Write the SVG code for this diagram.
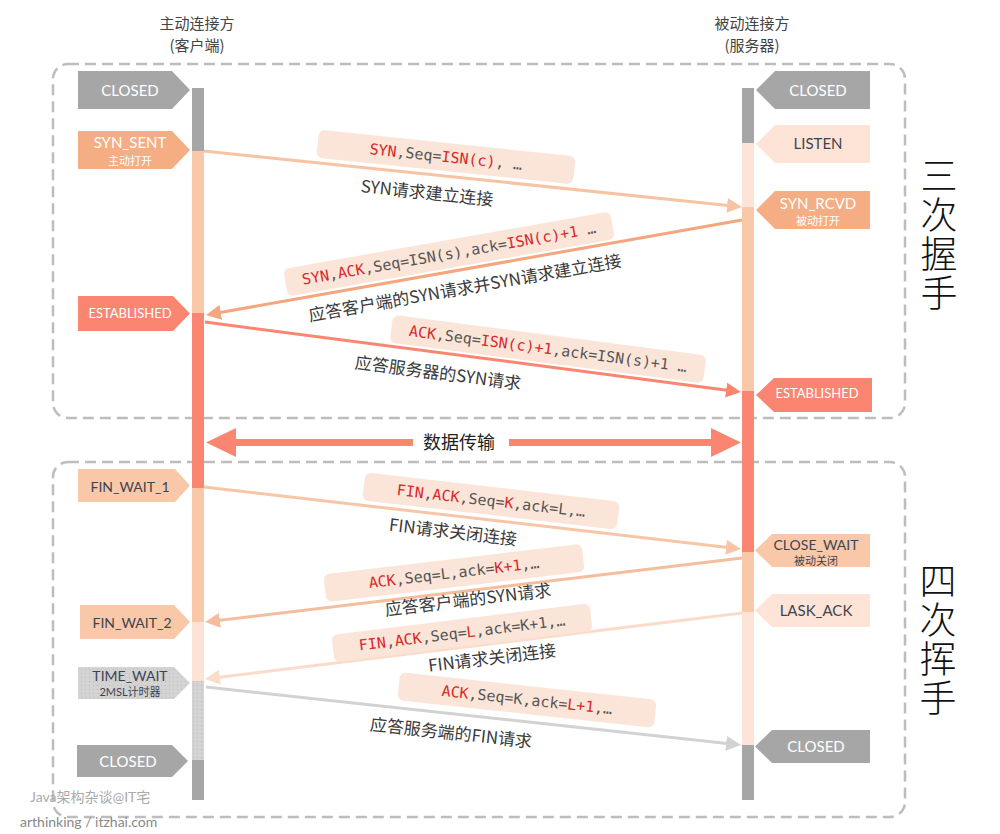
<svg xmlns="http://www.w3.org/2000/svg" width="1000" height="834" viewBox="0 0 1000 834">
<defs>
<style>
.frame{fill:none;stroke:#bdbdbd;stroke-width:2.5;stroke-dasharray:11 6}
.hdr{font-family:"Noto Sans CJK SC","Noto Sans",sans-serif;font-size:15px;fill:#444;text-anchor:middle}
.side{font-family:"Noto Sans CJK SC",sans-serif;font-size:37px;fill:#111;font-weight:200;writing-mode:vertical-rl;letter-spacing:2px}
.st{font-family:Lato,"Open Sans","Noto Sans CJK SC",sans-serif;font-size:15px;text-anchor:middle}
.sub{font-family:Lato,"Noto Sans CJK SC",sans-serif;font-size:11px;text-anchor:middle}
.w{fill:#fff}
.d{fill:#3d4451}
.box{fill:#fbe2d4;fill-opacity:0.9}
.mono{font-family:"DejaVu Sans Mono","Liberation Mono",monospace;font-size:15px;fill:#555;text-anchor:middle}
.r{fill:#d8282b}
.lbl{font-family:"Noto Sans CJK SC","Noto Sans",sans-serif;font-size:17px;fill:#3a3a3a;text-anchor:middle}
.msg{fill:none;stroke-width:3}
.wm{font-family:Lato,"Noto Sans CJK SC",sans-serif;font-size:14px}
</style>
<pattern id="dots" width="4" height="4" patternUnits="userSpaceOnUse">
<rect width="4" height="4" fill="#d3d3d3"/>
<rect x="1" y="1" width="1" height="1" fill="#bcbcbc"/>
</pattern>
<marker id="m1" viewBox="0 0 10 10" markerWidth="15" markerHeight="15" markerUnits="userSpaceOnUse" refX="7" refY="5" orient="auto"><path d="M0,0 L10,5 L0,10 Z" fill="#f7c3a3"/></marker>
<marker id="m2" viewBox="0 0 10 10" markerWidth="15" markerHeight="15" markerUnits="userSpaceOnUse" refX="7" refY="5" orient="auto"><path d="M0,0 L10,5 L0,10 Z" fill="#f4a67e"/></marker>
<marker id="m3" viewBox="0 0 10 10" markerWidth="15" markerHeight="15" markerUnits="userSpaceOnUse" refX="7" refY="5" orient="auto"><path d="M0,0 L10,5 L0,10 Z" fill="#fa8672"/></marker>
<marker id="m4" viewBox="0 0 10 10" markerWidth="15" markerHeight="15" markerUnits="userSpaceOnUse" refX="7" refY="5" orient="auto"><path d="M0,0 L10,5 L0,10 Z" fill="#f8c6a6"/></marker>
<marker id="m5" viewBox="0 0 10 10" markerWidth="15" markerHeight="15" markerUnits="userSpaceOnUse" refX="7" refY="5" orient="auto"><path d="M0,0 L10,5 L0,10 Z" fill="#f6bd9c"/></marker>
<marker id="m6" viewBox="0 0 10 10" markerWidth="15" markerHeight="15" markerUnits="userSpaceOnUse" refX="7" refY="5" orient="auto"><path d="M0,0 L10,5 L0,10 Z" fill="#fbdccb"/></marker>
<marker id="m7" viewBox="0 0 10 10" markerWidth="15" markerHeight="15" markerUnits="userSpaceOnUse" refX="7" refY="5" orient="auto"><path d="M0,0 L10,5 L0,10 Z" fill="#d2d2d2"/></marker>
</defs>
<rect width="1000" height="834" fill="#fff"/>

<!-- frames -->
<g id="frames">
<rect class="frame" x="53" y="64" width="852" height="354" rx="15"/>
<rect class="frame" x="53" y="462" width="852" height="355" rx="15"/>
</g>

<!-- headers -->
<g id="header-client">
<text class="hdr" x="197" y="28.5">主动连接方</text>
<text class="hdr" x="197" y="50.5">(客户端)</text>
</g>
<g id="header-server">
<text class="hdr" x="752" y="28.5">被动连接方</text>
<text class="hdr" x="752" y="50.5">(服务器)</text>
</g>

<!-- side titles -->
<g id="title-handshake">
<text class="side" x="939" y="157">三次握手</text>
</g>
<g id="title-wave">
<text class="side" x="938" y="562">四次挥手</text>
</g>

<!-- client timeline -->
<g id="client-timeline">
<rect x="192" y="88" width="12" height="63" fill="#a6a6a6"/>
<rect x="192" y="151" width="12" height="162" fill="#f8c8a9"/>
<rect x="192" y="313" width="12" height="175" fill="#fa8672"/>
<rect x="192" y="488" width="12" height="134" fill="#f8c8a9"/>
<rect x="192" y="622" width="12" height="59" fill="#fce3d6"/>
<rect x="192" y="681" width="12" height="79" fill="url(#dots)"/>
<rect x="192" y="760" width="12" height="40" fill="#a6a6a6"/>
</g>

<!-- server timeline -->
<g id="server-timeline">
<rect x="742" y="88" width="12" height="55" fill="#a6a6a6"/>
<rect x="742" y="143" width="12" height="64" fill="#fde4d7"/>
<rect x="742" y="207" width="12" height="184" fill="#f8c8a9"/>
<rect x="742" y="391" width="12" height="161" fill="#fa8672"/>
<rect x="742" y="552" width="12" height="60" fill="#f8c8a9"/>
<rect x="742" y="612" width="12" height="133" fill="#fde4d7"/>
<rect x="742" y="745" width="12" height="55" fill="#a6a6a6"/>
</g>

<!-- client states -->
<g id="c-closed1">
<path d="M78,71 H172 L190,90 L172,109 H78 Z" fill="#a6a6a6"/>
<text class="st w" x="130" y="95.5">CLOSED</text>
</g>
<g id="c-syn-sent">
<path d="M78,131 H172 L190,150 L172,169 H78 Z" fill="#f5ad84"/>
<text class="st w" x="130" y="148">SYN_SENT</text>
<text class="sub w" x="130" y="165">主动打开</text>
</g>
<g id="c-established">
<path d="M78,296 H173 L190,313.5 L173,331 H78 Z" fill="#fa8672"/>
<text class="st w" x="130" y="318" style="font-size:13px">ESTABLISHED</text>
</g>
<g id="c-fin-wait-1">
<path d="M78,469 H175 L190,485.5 L175,502 H78 Z" fill="#f8c8a9"/>
<text class="st d" x="130" y="491.5" style="font-size:14px">FIN_WAIT_1</text>
</g>
<g id="c-fin-wait-2">
<path d="M80,605 H174 L190,622 L174,639 H80 Z" fill="#f8c8a9"/>
<text class="st d" x="132" y="627.5" style="font-size:14px">FIN_WAIT_2</text>
</g>
<g id="c-time-wait">
<path d="M78,667 H174 L190,683 L174,699 H78 Z" fill="url(#dots)"/>
<text class="st d" x="130" y="681" style="font-size:14px">TIME_WAIT</text>
<text class="sub d" x="130" y="696">2MSL计时器</text>
</g>
<g id="c-closed2">
<path d="M77,745 H172 L188,761 L172,777 H77 Z" fill="#a6a6a6"/>
<text class="st w" x="128" y="766.5">CLOSED</text>
</g>

<!-- server states -->
<g id="s-closed1">
<path d="M870,71 H775 L756,90 L775,109 H870 Z" fill="#a6a6a6"/>
<text class="st w" x="818" y="95.5">CLOSED</text>
</g>
<g id="s-listen">
<path d="M870,125 H775 L756,144 L775,163 H870 Z" fill="#fde4d7"/>
<text class="st d" x="818" y="149">LISTEN</text>
</g>
<g id="s-syn-rcvd">
<path d="M870,191 H775 L756,210 L775,229 H870 Z" fill="#f5ad84"/>
<text class="st w" x="818" y="209">SYN_RCVD</text>
<text class="sub w" x="818" y="225">被动打开</text>
</g>
<g id="s-established">
<path d="M872,378 H774 L756,395 L774,412 H872 Z" fill="#fa8672"/>
<text class="st w" x="817" y="398" style="font-size:13px">ESTABLISHED</text>
</g>
<g id="s-close-wait">
<path d="M870,534 H772 L755,550.5 L772,567 H870 Z" fill="#f8c8a9"/>
<text class="st d" x="816" y="550" style="font-size:14px">CLOSE_WAIT</text>
<text class="sub d" x="816" y="565">被动关闭</text>
</g>
<g id="s-last-ack">
<path d="M870,594 H772 L755,610.5 L772,627 H870 Z" fill="#fde4d7"/>
<text class="st d" x="816" y="616">LASK_ACK</text>
</g>
<g id="s-closed2">
<path d="M870,730 H772 L755,746.5 L772,763 H870 Z" fill="#a6a6a6"/>
<text class="st w" x="816" y="752">CLOSED</text>
</g>

<!-- connectors -->
<g id="connectors">
<line class="msg" x1="204" y1="151" x2="737.5" y2="206.5" stroke="#f7c3a3" marker-end="url(#m1)"/>
<line class="msg" x1="742" y1="220" x2="210.4" y2="314.2" stroke="#f4a67e" marker-end="url(#m2)"/>
<line class="msg" x1="205" y1="322" x2="736.5" y2="391.4" stroke="#fa8672" marker-end="url(#m3)"/>
<line class="msg" x1="204" y1="487" x2="736.5" y2="548.5" stroke="#f8c6a6" marker-end="url(#m4)"/>
<line class="msg" x1="742" y1="558" x2="209.5" y2="621.5" stroke="#f6bd9c" marker-end="url(#m5)"/>
<line class="msg" x1="742" y1="613" x2="209.5" y2="678.5" stroke="#fbdccb" marker-end="url(#m6)"/>
<line class="msg" x1="206" y1="687" x2="736.5" y2="744.5" stroke="#d2d2d2" marker-end="url(#m7)"/>
<polygon points="206,442.5 236,428 236,439 413,439 413,446 236,446 236,457" fill="#fa8672"/>
<polygon points="741,442.5 711,428 711,439 509,439 509,446 711,446 711,457" fill="#fa8672"/>
</g>

<!-- message labels -->
<g id="msg1">
<g transform="translate(446,157) rotate(5.94)">
<rect class="box" x="-129" y="-14" width="258" height="28" rx="6"/>
<text class="mono" x="0" y="5"><tspan class="r">SYN</tspan>,Seq=<tspan class="r">ISN(c)</tspan>, …</text>
</g>
<text class="lbl" transform="translate(427,193) rotate(5.94)" y="6">SYN请求建立连接</text>
</g>
<g id="msg2">
<g transform="translate(449,254) rotate(-10)">
<rect class="box" x="-166" y="-14" width="332" height="28" rx="6"/>
<text class="mono" x="0" y="5"><tspan class="r">SYN</tspan>,<tspan class="r">ACK</tspan>,Seq=ISN(s),ack=<tspan class="r">ISN(c)+1</tspan> …</text>
</g>
<text class="lbl" transform="translate(465,288) rotate(-10)" y="6">应答客户端的SYN请求并SYN请求建立连接</text>
</g>
<g id="msg3">
<g transform="translate(548,349) rotate(7.44)">
<rect class="box" x="-158" y="-14" width="316" height="28" rx="6"/>
<text class="mono" x="0" y="5"><tspan class="r">ACK</tspan>,Seq=<tspan class="r">ISN(c)+1</tspan>,ack=ISN(s)+1 …</text>
</g>
<text class="lbl" transform="translate(438,373) rotate(7.44)" y="6">应答服务器的SYN请求</text>
</g>
<g id="data-label">
<text class="lbl" x="459" y="449" style="font-size:18px;fill:#222">数据传输</text>
</g>
<g id="msg4">
<g transform="translate(491,501) rotate(6.59)">
<rect class="box" x="-128" y="-14" width="256" height="28" rx="6"/>
<text class="mono" x="0" y="5"><tspan class="r">FIN</tspan>,<tspan class="r">ACK</tspan>,Seq=<tspan class="r">K</tspan>,ack=L,…</text>
</g>
<text class="lbl" transform="translate(453,532) rotate(6.59)" y="6">FIN请求关闭连接</text>
</g>
<g id="msg5">
<g transform="translate(454,573) rotate(-6.8)">
<rect class="box" x="-130" y="-14" width="260" height="28" rx="6"/>
<text class="mono" x="0" y="5"><tspan class="r">ACK</tspan>,Seq=L,ack=<tspan class="r">K+1</tspan>,…</text>
</g>
<text class="lbl" transform="translate(468,600) rotate(-6.8)" y="6">应答客户端的SYN请求</text>
</g>
<g id="msg6">
<g transform="translate(462,633) rotate(-7)">
<rect class="box" x="-130" y="-14" width="260" height="28" rx="6"/>
<text class="mono" x="0" y="5"><tspan class="r">FIN</tspan>,<tspan class="r">ACK</tspan>,Seq=<tspan class="r">L</tspan>,ack=K+1,…</text>
</g>
<text class="lbl" transform="translate(492,658) rotate(-7)" y="6">FIN请求关闭连接</text>
</g>
<g id="msg7">
<g transform="translate(527,700) rotate(6.19)">
<rect class="box" x="-129" y="-14" width="258" height="28" rx="6"/>
<text class="mono" x="0" y="5"><tspan class="r">ACK</tspan>,Seq=K,ack=<tspan class="r">L+1</tspan>,…</text>
</g>
<text class="lbl" transform="translate(451,733) rotate(6.19)" y="6">应答服务端的FIN请求</text>
</g>

<!-- watermark -->
<g id="watermark">
<text class="wm" x="30" y="802" fill="#aaa">Java架构杂谈@IT宅</text>
<text class="wm" x="20" y="827" fill="#888">arthinking / itzhai.com</text>
</g>
</svg>
